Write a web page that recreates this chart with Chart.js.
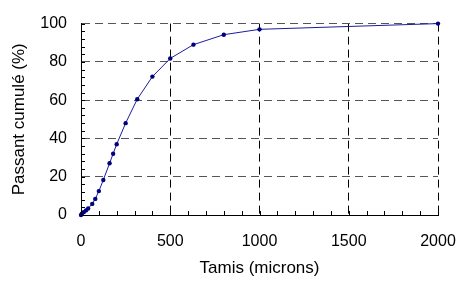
<!DOCTYPE html>
<html>
<head>
<meta charset="utf-8">
<script src="https://cdn.jsdelivr.net/npm/chart.js@4/dist/chart.umd.min.js"></script>
<style>
  body { margin: 0; background: #fff; }
  #wrap { width: 459px; height: 282px; }
</style>
</head>
<body>
<div id="wrap"><canvas id="gradChart"></canvas></div>
<script>
// ouvertures des tamis (microns) et passant cumulé (%)
var tamis = [0, 5, 15, 28, 40, 63, 80, 100, 125, 160, 180, 200, 250, 315, 400, 500, 630, 800, 1000, 2000];
var passant = [0, 0.7, 1.5, 2.4, 3.4, 5.8, 8.4, 12.5, 18.3, 27, 32, 37, 48, 60.5, 72.3, 81.8, 89, 94.2, 97, 100];

var xTicks = [0, 500, 1000, 1500, 2000];
var yTicks = [0, 20, 40, 60, 80, 100];

var policeTicks = { family: 'Arial, "Liberation Sans", sans-serif', size: 16 };
var policeTitre = { family: 'Arial, "Liberation Sans", sans-serif', size: 17 };

// petites graduations vers l'intérieur du tracé
var tickMarks = {
    id: 'tickMarks',
    afterDraw: function (chart) {
        var c = chart.ctx;
        var sx = chart.scales.x, sy = chart.scales.y;
        c.save();
        c.strokeStyle = '#000';
        c.lineWidth = 1;
        c.beginPath();
        sx.ticks.forEach(function (t) {
            var px = Math.round(sx.getPixelForValue(t.value)) + 0.5;
            c.moveTo(px, sy.bottom);
            c.lineTo(px, sy.bottom - 4);
        });
        sy.ticks.forEach(function (t) {
            var py = Math.round(sy.getPixelForValue(t.value)) + 0.5;
            c.moveTo(sx.left, py);
            c.lineTo(sx.left + 4, py);
        });
        c.stroke();
        c.restore();
    }
};

var ctx = document.getElementById('gradChart').getContext('2d');
var myChart = new Chart(ctx, {
    type: 'scatter',
    data: {
        datasets: [{
            label: 'Passant cumulé',
            data: tamis.map(function (t, i) { return { x: t, y: passant[i] }; }),
            showLine: true,
            borderColor: '#1c1c9c',
            backgroundColor: '#000080',
            borderWidth: 1,
            pointRadius: 2.2,
            pointBorderWidth: 0,
            tension: 0,
            clip: false
        }]
    },
    options: {
        responsive: true,
        maintainAspectRatio: false,
        animation: false,
        layout: { padding: { left: 0, right: 21, top: 20, bottom: 0 } },
        plugins: { legend: { display: false }, tooltip: { enabled: false } },
        scales: {
            x: {
                type: 'linear',
                min: 0,
                max: 2000,
                afterFit: function (s) {
                    s.height = 67;
                    s.paddingLeft = 0;
                    s.paddingRight = 0;
                },
                ticks: {
                    stepSize: 100,
                    autoSkip: false,
                    maxRotation: 0,
                    padding: 17,
                    color: '#000',
                    font: policeTicks,
                    callback: function (v) { return xTicks.indexOf(v) >= 0 ? String(v) : ''; }
                },
                grid: {
                    drawTicks: false,
                    lineWidth: 1,
                    color: function (c) {
                        var v = c.tick ? c.tick.value : 0;
                        return (v !== 0 && xTicks.indexOf(v) >= 0) ? '#000' : 'rgba(0,0,0,0)';
                    }
                },
                border: { display: true, color: '#000', width: 1, dash: [8, 5] },
                title: {
                    display: true,
                    text: 'Tamis (microns)',
                    color: '#000',
                    font: policeTitre,
                    padding: { top: 0, bottom: 3 }
                }
            },
            y: {
                type: 'linear',
                min: 0,
                max: 100,
                afterFit: function (s) { s.width = 81; },
                ticks: {
                    stepSize: 4,
                    autoSkip: false,
                    padding: 14,
                    color: '#000',
                    font: policeTicks,
                    callback: function (v) { return yTicks.indexOf(v) >= 0 ? String(v) : ''; }
                },
                grid: {
                    drawTicks: false,
                    lineWidth: 1,
                    color: function (c) {
                        var v = c.tick ? c.tick.value : 0;
                        return (v !== 0 && yTicks.indexOf(v) >= 0) ? '#555' : 'rgba(0,0,0,0)';
                    }
                },
                border: { display: true, color: '#000', width: 1, dash: [8, 5] },
                title: {
                    display: true,
                    text: 'Passant cumulé (%)',
                    color: '#000',
                    font: policeTitre,
                    padding: { top: 9, bottom: 0 }
                }
            }
        }
    },
    plugins: [tickMarks]
});
</script>
</body>
</html>
